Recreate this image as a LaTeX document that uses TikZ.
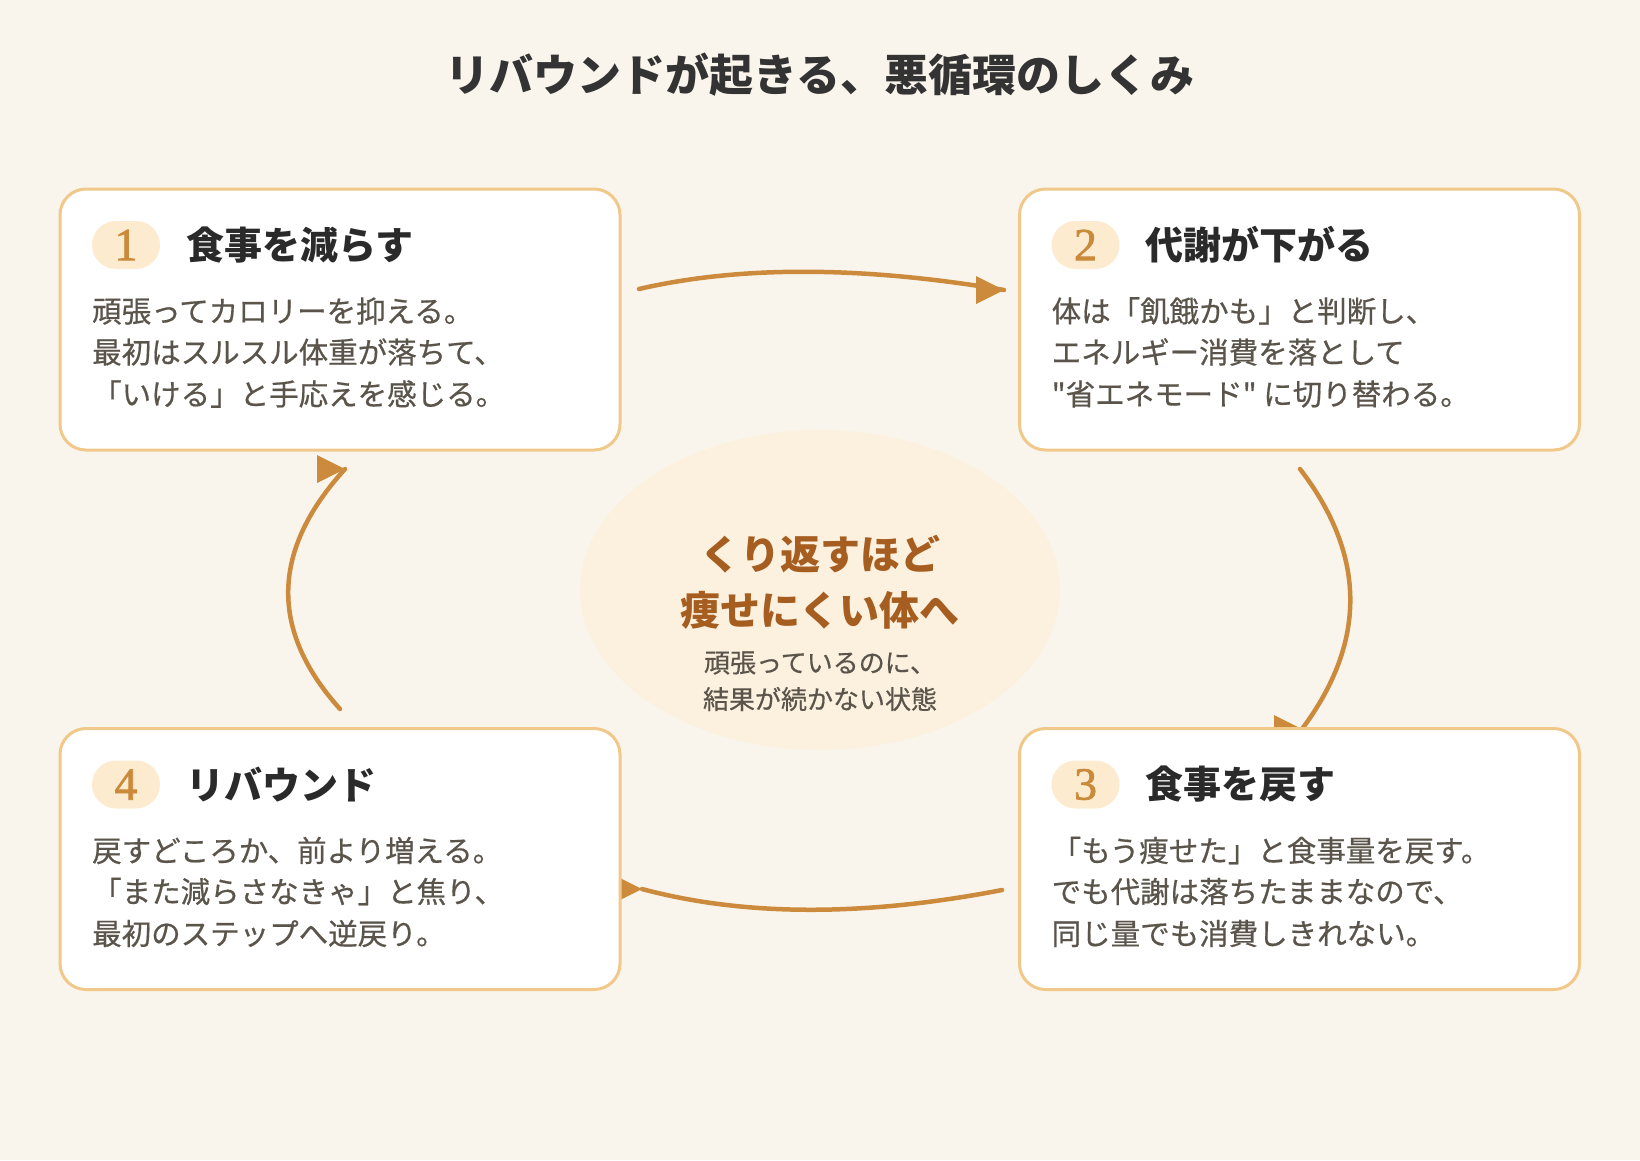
\documentclass[tikz,border=0pt]{standalone}
\usepackage{fontspec}
\setmainfont{Noto Sans CJK JP}
\newfontfamily\jp{Noto Sans CJK JP}
\newfontfamily\jpmed[FakeBold=0.5]{Noto Sans CJK JP}
\newfontfamily\numserif[FakeBold=1.6]{Liberation Serif}
\usetikzlibrary{shapes.geometric}
\definecolor{bgc}{HTML}{FAF5EC}
\definecolor{cardline}{HTML}{F0C98A}
\definecolor{badgefill}{HTML}{FDEBD0}
\definecolor{numc}{HTML}{C98A3A}
\definecolor{arrowc}{HTML}{CC8A3C}
\definecolor{ellfill}{HTML}{FCF1DF}
\definecolor{headc}{HTML}{2A2A2A}
\definecolor{bodyc}{HTML}{5A544B}
\definecolor{centc}{HTML}{A65E20}
\definecolor{titlec}{HTML}{333333}
\tikzset{
  card/.style={draw=cardline, line width=3pt, fill=white, rounded corners=26pt,
    minimum width=560pt, minimum height=261pt, inner sep=0pt},
  badge/.style={fill=badgefill, rounded corners=24pt, minimum width=68pt,
    minimum height=48pt, inner sep=0pt, text=numc,
    font=\numserif\fontsize{46}{46}\selectfont},
  head/.style={anchor=west, inner sep=0pt, text=headc,
    font=\jp\bfseries\fontsize{38}{42}\selectfont},
  body/.style={anchor=west, inner sep=0pt, text=bodyc,
    font=\jpmed\fontsize{29.5}{34}\selectfont},
  conn/.style={draw=arrowc, line width=4.5pt, line cap=round},
  tip/.style={fill=arrowc},
}
\begin{document}
\begin{tikzpicture}[x=1pt,y=-1pt]
\useasboundingbox (0,0) rectangle (1640,1160);
\fill[bgc] (0,0) rectangle (1640,1160);

% title
\node[inner sep=0pt, text=titlec, font=\jp\bfseries\fontsize{44}{48}\selectfont] (title) at (820,75) {リバウンドが起きる、悪循環のしくみ};

% center ellipse
\node[ellipse, fill=ellfill, minimum width=480pt, minimum height=320pt, inner sep=0pt] (ell) at (820,590) {};
\node[inner sep=0pt, text=centc, font=\jp\bfseries\fontsize{40}{44}\selectfont] (c1) at (820,554) {くり返すほど};
\node[inner sep=0pt, text=centc, font=\jp\bfseries\fontsize{40}{44}\selectfont] (c2) at (820,610) {痩せにくい体へ};
\node[inner sep=0pt, text=bodyc, font=\jpmed\fontsize{26}{30}\selectfont] (c3) at (820,663) {頑張っているのに、};
\node[inner sep=0pt, text=bodyc, font=\jpmed\fontsize{26}{30}\selectfont] (c4) at (820,699) {結果が続かない状態};

% connectors (drawn under the cards)
\coordinate (a1s) at (639,289);
\coordinate (a1e) at (1004,290);
\coordinate (a2s) at (1300,469);
\coordinate (a2e) at (1302,729);
\coordinate (a3s) at (1002,890);
\coordinate (a3e) at (642,889);
\coordinate (a4s) at (340,709);
\coordinate (a4e) at (345,469);
\draw[conn] (a1s) .. controls (740,265.7) and (861,266) .. (a1e);
\draw[conn] (a2s) .. controls (1366.7,555.7) and (1366.7,642.3) .. (a2e);
\draw[conn] (a3s) .. controls (864,916.7) and (744,916.3) .. (a3e);
\draw[conn] (a4s) .. controls (269.3,630.3) and (271,550.3) .. (a4e);
\foreach \t in {a1e,a2e,a3e,a4e}{
  \fill[tip] (\t) -- ++(-28,-14) -- ++(0,28) -- cycle;
}

% cards
\node[card] (b1) at (340,319.5) {};
\node[card] (b2) at (1299.5,319.5) {};
\node[card] (b3) at (1299.5,859) {};
\node[card] (b4) at (340,859) {};

% card 1
\node[badge] (n1) at (126,245) {1};
\node[head] (h1) at (186,245) {食事を減らす};
\node[body] (t1a) at (92,311) {頑張ってカロリーを抑える。};
\node[body] (t1b) at (92,352) {最初はスルスル体重が落ちて、};
\node[body] (t1c) at (92,394) {「いける」と手応えを感じる。};

% card 2
\node[badge] (n2) at (1085.5,245) {2};
\node[head] (h2) at (1145.5,245) {代謝が下がる};
\node[body] (t2a) at (1051.5,311) {体は「飢餓かも」と判断し、};
\node[body] (t2b) at (1051.5,352) {エネルギー消費を落として};
\node[body] (t2c) at (1051.5,394) {"省エネモード" に切り替わる。};

% card 3
\node[badge] (n3) at (1085.5,784.5) {3};
\node[head] (h3) at (1145.5,784.5) {食事を戻す};
\node[body] (t3a) at (1051.5,850.5) {「もう痩せた」と食事量を戻す。};
\node[body] (t3b) at (1051.5,891.5) {でも代謝は落ちたままなので、};
\node[body] (t3c) at (1051.5,933.5) {同じ量でも消費しきれない。};

% card 4
\node[badge] (n4) at (126,784.5) {4};
\node[head] (h4) at (186,784.5) {リバウンド};
\node[body] (t4a) at (92,850.5) {戻すどころか、前より増える。};
\node[body] (t4b) at (92,891.5) {「また減らさなきゃ」と焦り、};
\node[body] (t4c) at (92,933.5) {最初のステップへ逆戻り。};
\end{tikzpicture}
\end{document}
